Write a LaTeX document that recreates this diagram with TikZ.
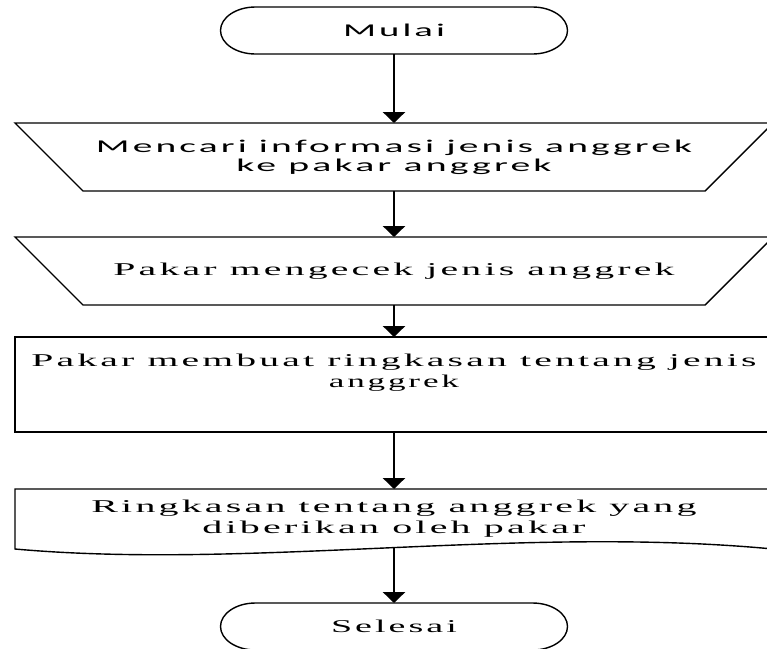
\documentclass[tikz,border=0pt]{standalone}
\usepackage{fontspec}
\usetikzlibrary{arrows.meta,calc}
\newfontfamily\sansf[LetterSpace=8]{Carlito}
\newfontfamily\serf[LetterSpace=8]{Liberation Serif}
\newcommand\fw[2]{\resizebox{#1pt}{\height}{#2}}
\begin{document}
\begin{tikzpicture}[x=1pt,y=-1pt,
  outline/.style={draw=black,line width=1.4pt},
  box/.style={inner sep=0pt,outer sep=0pt,minimum width=758pt,align=center},
  term/.style={inner sep=0pt,outer sep=0pt,minimum width=347pt,minimum height=47pt,align=center},
  flow/.style={line width=2.8pt,-{Triangle[width=22pt,length=11pt]}},
  txtS/.style={font=\sansf\fontsize{18}{19}\selectfont},
  txtR/.style={font=\serf\fontsize{18}{21}\selectfont}]
\useasboundingbox (0,0) rectangle (767,648);
\clip (0,0) rectangle (767,648);
% start
\node[term,txtS] (start) at (394,30.5) {\fw{102}{Mulai}};
\draw[outline] ($(start.north west)+(35,0)$) -- ($(start.north east)+(-35,0)$)
  arc[start angle=90,end angle=-90,x radius=35pt,y radius=23.5pt]
  -- ($(start.south west)+(35,0)$)
  arc[start angle=270,end angle=90,x radius=35pt,y radius=23.5pt] -- cycle;
% manual operation 1
\node[box,minimum height=68pt,txtS] (p1) at (394,157)
  {\fw{596}{Mencari informasi jenis anggrek}\\\fw{315}{ke pakar anggrek}};
\draw[outline] (p1.north west) -- (p1.north east) -- ($(p1.south east)+(-68,0)$)
  -- ($(p1.south west)+(68,0)$) -- cycle;
% manual operation 2
\node[box,minimum height=68pt,txtR] (p2) at (394,271) {\fw{561}{Pakar mengecek jenis anggrek}};
\draw[outline] (p2.north west) -- (p2.north east) -- ($(p2.south east)+(-68,0)$)
  -- ($(p2.south west)+(68,0)$) -- cycle;
% process
\node[box,minimum height=95pt,outline] (p3) at (394,384.5) {};
\node[txtR,align=center,inner sep=0pt] (t3) at (394,373)
  {\fw{725}{Pakar membuat ringkasan tentang jenis}\hspace{28pt}\\\fw{130}{anggrek}};
% document
\node[box,minimum height=60pt,txtR] (p4) at (394,519)
  {\fw{605}{Ringkasan tentang anggrek yang}\\\fw{383}{diberikan oleh pakar}};
\draw[outline] (p4.south east) -- (p4.north east) -- (p4.north west) -- (p4.south west)
  .. controls ($(p4.south west)+(235,21)$) and ($(p4.south east)+(-253,-24)$) .. (p4.south east)
  coordinate[pos=0.5] (wv);
% end
\node[term,txtR] (end) at (394,626.5) {\fw{126}{Selesai}};
\draw[outline] ($(end.north west)+(35,0)$) -- ($(end.north east)+(-35,0)$)
  arc[start angle=90,end angle=-90,x radius=35pt,y radius=23.5pt]
  -- ($(end.south west)+(35,0)$)
  arc[start angle=270,end angle=90,x radius=35pt,y radius=23.5pt] -- cycle;
% connectors
\draw[flow] (start) -- (p1);
\draw[flow] (p1) -- (p2);
\draw[flow] (p2) -- (p3);
\draw[flow] (p3) -- (p4);
\draw[flow] (wv -| end) -- (end);
\end{tikzpicture}
\end{document}
